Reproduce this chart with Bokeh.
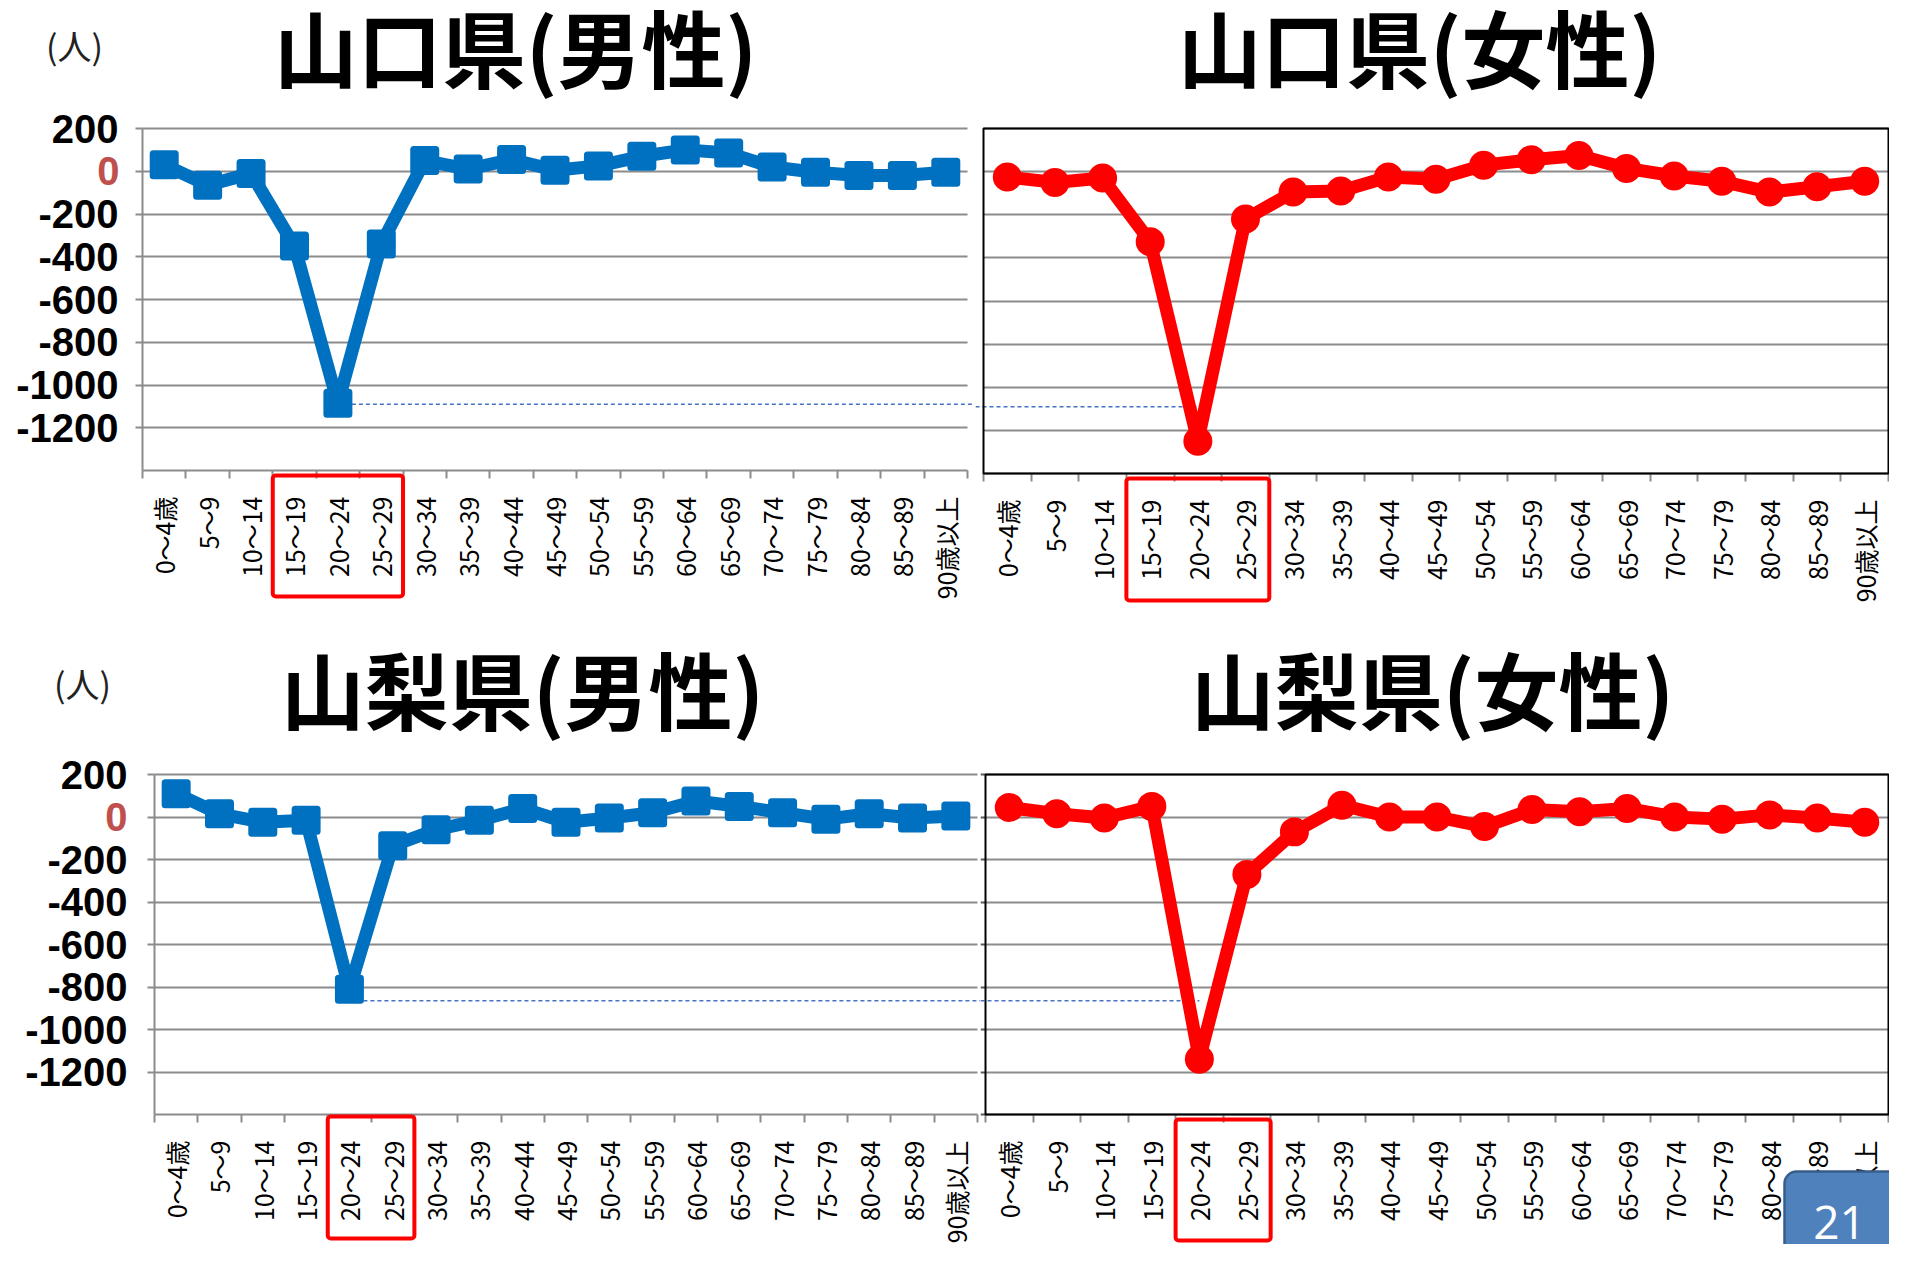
import math
from bokeh.plotting import figure
from bokeh.models import (Range1d, FixedTicker, LinearAxis, BoxAnnotation, Label, Grid)
from bokeh.layouts import column, row
from bokeh.embed import file_html
from bokeh.resources import INLINE

# ---------------- data ----------------
categories = ["0～4歳", "5～9", "10～14", "15～19", "20～24", "25～29", "30～34",
              "35～39", "40～44", "45～49", "50～54", "55～59", "60～64", "65～69",
              "70～74", "75～79", "80～84", "85～89", "90歳以上"]

y_ticks = [200, 0, -200, -400, -600, -800, -1000, -1200]
y_min = -1400
y_max = 200

yamaguchi_male = [30, -65, -10, -350, -1085, -340, 50, 10, 55, 5, 25, 70, 100, 85, 20, -5, -20, -20, -5]
yamaguchi_female = [-25, -50, -30, -325, -1250, -220, -95, -90, -25, -35, 30, 55, 75, 15, -20, -45, -95, -70, -45]
yamanashi_male = [110, 15, -25, -15, -810, -135, -60, -15, 40, -25, -5, 20, 75, 50, 20, -10, 15, -5, 5]
yamanashi_female = [45, 15, -5, 50, -1140, -270, -70, 55, 0, 0, -45, 35, 25, 40, 0, -10, 10, -5, -25]

boxed_yamaguchi = ["15～19", "20～24", "25～29"]
boxed_yamanashi = ["20～24", "25～29"]

ref_level_yamaguchi = -1090
ref_level_yamanashi = -865

title_tl = "山口県(男性)"
title_tr = "山口県(女性)"
title_bl = "山梨県(男性)"
title_br = "山梨県(女性)"
unit_label = "(人)"
page_number = "21"

# ---------------- style ----------------
BLUE = "#0070C0"
RED = "#FF0000"
GRAY = "#8C8C8C"
DASH = "#4472C4"
CJK = "Noto Sans CJK JP"
N = len(categories)
boundaries = list(range(N + 1))                  # category edges (index units)
centers = [i + 0.5 for i in range(N)]            # category centres (index units)
PAGE = 8                                         # body margin


def panel(canvas, plot):
    """canvas/plot: (x0, x1, y0, y1) in page pixels (y downward).
    The whole canvas is the frame; ranges are extended so the data region
    [0, N] x [y_min, y_max] lands on the plot rectangle."""
    cx0, cx1, cy0, cy1 = canvas
    px0, px1, py0, py1 = plot
    ux = (px1 - px0) / N
    uy = (py1 - py0) / (y_max - y_min)
    xr = Range1d(-(px0 - cx0) / ux, N + (cx1 - px1) / ux)
    yr = Range1d(y_min - (cy1 - py1) / uy, y_max + (py0 - cy0) / uy)
    p = figure(x_range=xr, y_range=yr, width=cx1 - cx0, height=cy1 - cy0,
               min_border=0, x_axis_location=None, y_axis_location=None,
               output_backend="svg", toolbar_location=None, tools="")
    for g in p.xgrid:
        g.visible = False
    for g in p.ygrid:
        g.visible = False
    p.background_fill_color = "white"
    p.border_fill_color = "white"
    p.outline_line_color = None

    if "cross_bounds" in Grid.properties():
        p.add_layout(Grid(dimension=1, ticker=FixedTicker(ticks=y_ticks), cross_bounds=(0, N),
                          grid_line_color=GRAY, grid_line_width=2))
    else:
        p.segment(x0=[boundaries[0]] * len(y_ticks), x1=[boundaries[-1]] * len(y_ticks),
                  y0=y_ticks, y1=y_ticks, line_color=GRAY, line_width=2)

    # tick-only axis at category boundaries
    tick_axis = LinearAxis(fixed_location=y_min, bounds=(0, N),
                           ticker=FixedTicker(ticks=boundaries),
                           major_label_overrides={i: "" for i in boundaries},
                           major_label_text_font_size="0px", major_label_standoff=0,
                           major_tick_in=0, major_tick_out=8, minor_tick_in=0, minor_tick_out=0,
                           axis_line_color=GRAY, axis_line_width=2,
                           major_tick_line_color=GRAY, major_tick_line_width=2)
    p.add_layout(tick_axis, "below")
    cat_axis = LinearAxis(fixed_location=y_min, bounds=(0, N),
                          ticker=FixedTicker(ticks=centers),
                          major_label_overrides={c: name for c, name in zip(centers, categories)},
                          major_label_orientation=math.pi / 2,
                          axis_line_color=None, major_tick_line_color=None,
                          minor_tick_line_color=None,
                          major_label_standoff=20, major_label_text_font=CJK,
                          major_label_text_font_size="25px", major_label_text_color="black")
    p.add_layout(cat_axis, "below")
    p._canvas = canvas
    return p


def add_left_axis(p, standoff, zero_dx):
    overrides = {t: str(t) for t in y_ticks}
    overrides[0] = ""
    ax = LinearAxis(fixed_location=0, bounds=(y_min, y_max),
                    ticker=FixedTicker(ticks=y_ticks), major_label_overrides=overrides,
                    major_label_text_font="Liberation Sans", major_label_text_font_style="bold",
                    major_label_text_font_size="40px", major_label_text_color="black",
                    major_label_standoff=standoff, major_tick_in=0, major_tick_out=7,
                    minor_tick_in=0, minor_tick_out=0,
                    axis_line_color=GRAY, axis_line_width=2,
                    major_tick_line_color=GRAY, major_tick_line_width=2)
    p.add_layout(ax, "left")
    p.add_layout(Label(x=0, y=0, x_offset=zero_dx, text="0",
                       text_align="right", text_baseline="middle",
                       text_font="Liberation Sans", text_font_style="bold",
                       text_font_size="40px", text_color="#C0504D"))


def screen(p, x, y):
    """page pixel position -> screen units of this canvas (origin bottom-left)."""
    cx0, cx1, cy0, cy1 = p._canvas
    return x - cx0, cy1 - y


def add_text(p, text, x, y, size, bold=False, color="black", font=CJK):
    sx, sy = screen(p, x, y)
    p.add_layout(Label(x=sx, y=sy, x_units="screen", y_units="screen", text=text,
                       text_align="center", text_baseline="middle", text_font=font,
                       text_font_style="bold" if bold else "normal",
                       text_font_size=size, text_color=color))


def add_box(p, boxed, y_top, y_bottom):
    _, t = screen(p, 0, y_top)
    _, b = screen(p, 0, y_bottom)
    p.add_layout(BoxAnnotation(left=boundaries[categories.index(boxed[0])],
                               right=boundaries[categories.index(boxed[-1]) + 1],
                               top=t, bottom=b, top_units="screen", bottom_units="screen",
                               fill_color=None, fill_alpha=0, line_color=RED, line_alpha=1,
                               line_width=4, border_radius=3))


def add_frame(p):
    p.add_layout(BoxAnnotation(left=boundaries[0], right=boundaries[-1], top=y_max, bottom=y_min,
                               fill_color=None, fill_alpha=0, line_color="black", line_alpha=1,
                               line_width=2))


def add_male(p, vals):
    p.line(x=centers, y=vals, line_width=13, line_color=BLUE, line_join="round")
    p.scatter(x=centers, y=vals, marker="square", size=22, fill_color=BLUE,
              line_color=BLUE, line_width=7, line_join="round")


def add_female(p, vals):
    p.line(x=centers, y=vals, line_width=13, line_color=RED, line_join="round")
    p.scatter(x=centers, y=vals, marker="circle", size=29, fill_color=RED, line_color=None)


def pos_min(vals):
    return centers[vals.index(min(vals))]


# layout in page pixels
TL_CANVAS = (PAGE, 983, PAGE, 620)
TL_PLOT = (150, 975, 136, 478)
TR_CANVAS = (983, 1897, PAGE, 620)
TR_PLOT = (991, 1896, 136, 481)
BL_CANVAS = (PAGE, 988, 620, 1252)
BL_PLOT = (162, 985, 782, 1122)
BR_CANVAS = (988, 1897, 620, 1252)
BR_PLOT = (993, 1896, 782, 1122)

# ---------------- top-left: 山口県(男性) ----------------
tl = panel(TL_CANVAS, TL_PLOT)
add_left_axis(tl, 17, -23)
tl.line(x=[pos_min(yamaguchi_male), tl.x_range.end], y=[ref_level_yamaguchi] * 2,
        line_dash="4 3", line_width=1.5, line_color=DASH)
add_male(tl, yamaguchi_male)
add_text(tl, title_tl, 523, 53, "84px", bold=True)
add_text(tl, unit_label, 82, 53, "34px", color="#222222")
add_box(tl, boxed_yamaguchi, 483, 604)

# ---------------- top-right: 山口県(女性) ----------------
tr = panel(TR_CANVAS, TR_PLOT)
tr.line(x=[tr.x_range.start, pos_min(yamaguchi_female)], y=[ref_level_yamaguchi] * 2,
        line_dash="4 3", line_width=1.5, line_color=DASH)
add_female(tr, yamaguchi_female)
add_frame(tr)
add_text(tr, title_tr, 1427, 53, "84px", bold=True)
add_box(tr, boxed_yamaguchi, 486, 608)

# ---------------- bottom-left: 山梨県(男性) ----------------
bl = panel(BL_CANVAS, BL_PLOT)
add_left_axis(bl, 20, -27)
bl.line(x=[pos_min(yamanashi_male), bl.x_range.end], y=[ref_level_yamanashi] * 2,
        line_dash="4 3", line_width=1.5, line_color=DASH)
add_male(bl, yamanashi_male)
add_text(bl, title_bl, 530, 695, "84px", bold=True)
add_text(bl, unit_label, 90, 691, "34px", color="#222222")
add_box(bl, boxed_yamanashi, 1124, 1246)

# ---------------- bottom-right: 山梨県(女性) ----------------
br = panel(BR_CANVAS, BR_PLOT)
br_ax = LinearAxis(fixed_location=0, bounds=(y_min, y_max),
                   ticker=FixedTicker(ticks=y_ticks + [y_min]),
                   major_label_overrides={t: "" for t in y_ticks + [y_min]},
                   major_label_text_font_size="0px", major_label_standoff=0,
                   major_tick_in=0, major_tick_out=5, minor_tick_in=0, minor_tick_out=0,
                   axis_line_color=None, major_tick_line_color="#595959", major_tick_line_width=2)
br.add_layout(br_ax, "left")
br.line(x=[br.x_range.start, pos_min(yamanashi_female)], y=[ref_level_yamanashi] * 2,
        line_dash="4 3", line_width=1.5, line_color=DASH)
add_female(br, yamanashi_female)
add_frame(br)
add_text(br, title_br, 1440, 695, "84px", bold=True)
add_box(br, boxed_yamanashi, 1127, 1248)
# page-number badge
bx0, by0 = screen(br, 1792, 1179)
br.add_layout(BoxAnnotation(left=bx0, right=bx0 + 140, top=by0, bottom=by0 - 120,
                            left_units="screen", right_units="screen",
                            top_units="screen", bottom_units="screen",
                            fill_color="#4F81BD", fill_alpha=1, line_color="#385D8A",
                            line_alpha=1, line_width=2.5, border_radius=12))
add_text(br, page_number, 1847, 1230, "46px", color="white", font="Open Sans")

layout = column(row(tl, tr, spacing=0), row(bl, br, spacing=0), spacing=0)

open("out.html", "w").write(file_html(layout, INLINE))
